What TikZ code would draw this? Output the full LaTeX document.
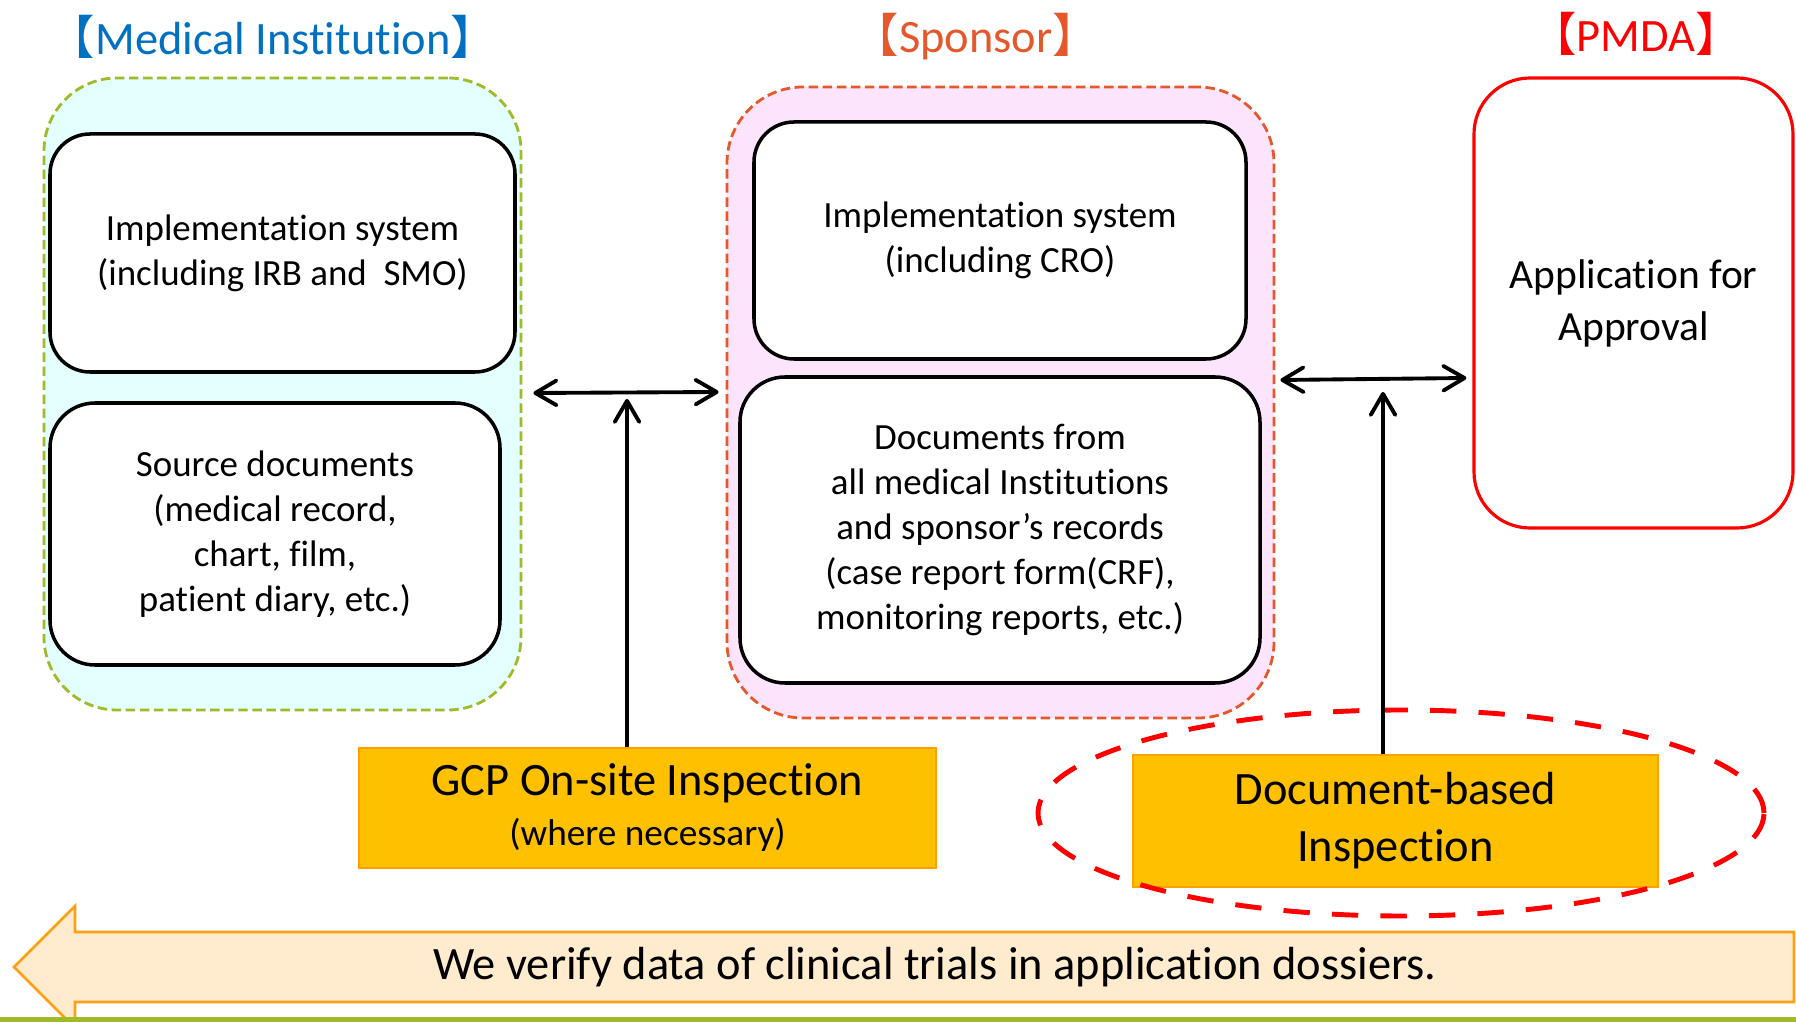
\documentclass[tikz,border=0pt]{standalone}
\usepackage{fontspec}
\setmainfont{Carlito}[Ligatures=NoCommon]
\newfontfamily\cjkfont{Noto Sans CJK JP}
\usetikzlibrary{arrows.meta, shapes.geometric, calc}

\begin{document}
\begin{tikzpicture}[x=0.01cm, y=-0.01cm,
		holder/.style={line width=.8pt, dash pattern=on 2.7pt off 1.3pt},
		sysbox/.style={draw=black, fill=white, line width=1pt, align=center, font=\fontsize{10.5pt}{12.8pt}\selectfont},
		inspbox/.style={draw=goldline, fill=gold, line width=.6pt, align=center, font=\fontsize{13.2pt}{14.2pt}\selectfont},
		heading/.style={font=\fontsize{13.2pt}{15pt}\selectfont},
		twoway/.style={{Straight Barb[length=6pt, width=7pt, round]}-{Straight Barb[length=6pt, width=7pt, round]}, line width=1.1pt},
		oneway/.style={-{Straight Barb[length=6pt, width=7pt, round]}, line width=1.1pt}]
	\definecolor{instblue}{RGB}{0, 112, 192}
	\definecolor{sponred}{RGB}{228, 88, 44}
	\definecolor{pmdared}{RGB}{255, 0, 0}
	\definecolor{leafgreen}{RGB}{160, 186, 40}
	\definecolor{icecyan}{RGB}{227, 255, 255}
	\definecolor{lilac}{RGB}{253, 228, 253}
	\definecolor{gold}{RGB}{255, 192, 0}
	\definecolor{goldline}{RGB}{255, 160, 0}
	\definecolor{peach}{RGB}{255, 235, 205}
	\definecolor{peachline}{RGB}{255, 160, 20}
	
	% \bracketed#label
	\def\bracketed#1{{\cjkfont 【}#1{\cjkfont 】}}
	
	% \drawbox#name#xcenter#ycenter#width#height#corner#label
	\def\drawbox#1#2#3#4#5#6#7{
		\node[sysbox, rounded corners=#6cm, minimum width=#4*0.01cm, minimum height=#5*0.01cm] (#1) at (#2, #3) {#7};
	}
	
	\useasboundingbox (0, 0) rectangle (1796, 1022);
	\clip (0, 0) rectangle (1796, 1022);
	\fill[white] (0, 0) rectangle (1796, 1022);
	
	% headings
	\node[heading, text=instblue] (insthead) at (273, 37) {\bracketed{Medical Institution}};
	\node[heading, text=sponred] (sponhead) at (976, 37) {\bracketed{Sponsor}};
	\node[heading, text=pmdared] (pmdahead) at (1636, 34) {\bracketed{PMDA}};
	
	% groups
	\node[holder, draw=leafgreen, fill=icecyan, rounded corners=.73cm, minimum width=477*0.01cm, minimum height=632*0.01cm] (inst) at (282.5, 394) {};
	\node[holder, draw=sponred, fill=lilac, rounded corners=.76cm, minimum width=547*0.01cm, minimum height=631*0.01cm] (spon) at (1000.5, 402.5) {};
	
	% diagram
	\drawbox{instsys}{282.5}{253}{465}{238}{.40}{Implementation system\\(including IRB and \ SMO)}
	\drawbox{srcdocs}{275}{534}{450}{262}{.45}{Source documents\\(medical record,\\chart, film,\\patient diary, etc.)}
	\drawbox{sponsys}{1000}{240.5}{492}{237}{.40}{Implementation system\\(including CRO)}
	\drawbox{spondocs}{1000}{530}{520}{306}{.45}{Documents from\\all medical Institutions\\and sponsor’s records\\(case report form(CRF),\\monitoring reports, etc.)}
	\node[draw=pmdared, line width=.9pt, rounded corners=.56cm, minimum width=319*0.01cm, minimum height=450*0.01cm, align=center, font=\fontsize{11.8pt}{14.8pt}\selectfont] (appr) at (1633.5, 303) {Application for\\Approval};
	
	\node[inspbox, minimum width=577*0.01cm, minimum height=120*0.01cm] (gcp) at (647.5, 808) {GCP On-site Inspection\\{\fontsize{10.6pt}{12.8pt}\selectfont (where necessary)}};
	\node[inspbox, minimum width=525*0.01cm, minimum height=132*0.01cm, font=\fontsize{13.2pt}{16.2pt}\selectfont] (doc) at (1395.5, 821) {Document-based\\Inspection};
	\node[ellipse, draw=pmdared, line width=1.4pt, dash pattern=on 7.5pt off 6.3pt, inner sep=0pt, minimum width=726*0.01cm, minimum height=206*0.01cm] (focus) at (1401, 813) {};
	
	\draw[twoway] ($(inst.east)+(11, -1)$) -- ($(spon.west)+(-7, -10.5)$);
	\draw[oneway] ($(gcp.north)+(-20.5, 0)$) -- ($(gcp.north)+(-20.5, -348)$);
	\draw[twoway] ($(spon.east)+(5, -22.5)$) -- ($(appr.west)+(-6, 75)$);
	\draw[oneway] ($(doc.north)+(-12.5, 0)$) -- ($(doc.north)+(-12.5, -362)$);
	
	% verification arrow
	\draw[draw=peachline, fill=peach, line width=.8pt] (14, 967) -- (75, 906) -- (75, 932) -- (1794, 932) -- (1794, 1002) -- (75, 1002) -- (75, 1028) -- cycle;
	\node[heading] (verify) at (935, 967) {We verify data of clinical trials in application dossiers.};
	\fill[leafgreen] (0, 1017) rectangle (1796, 1022);
\end{tikzpicture}
\end{document}
